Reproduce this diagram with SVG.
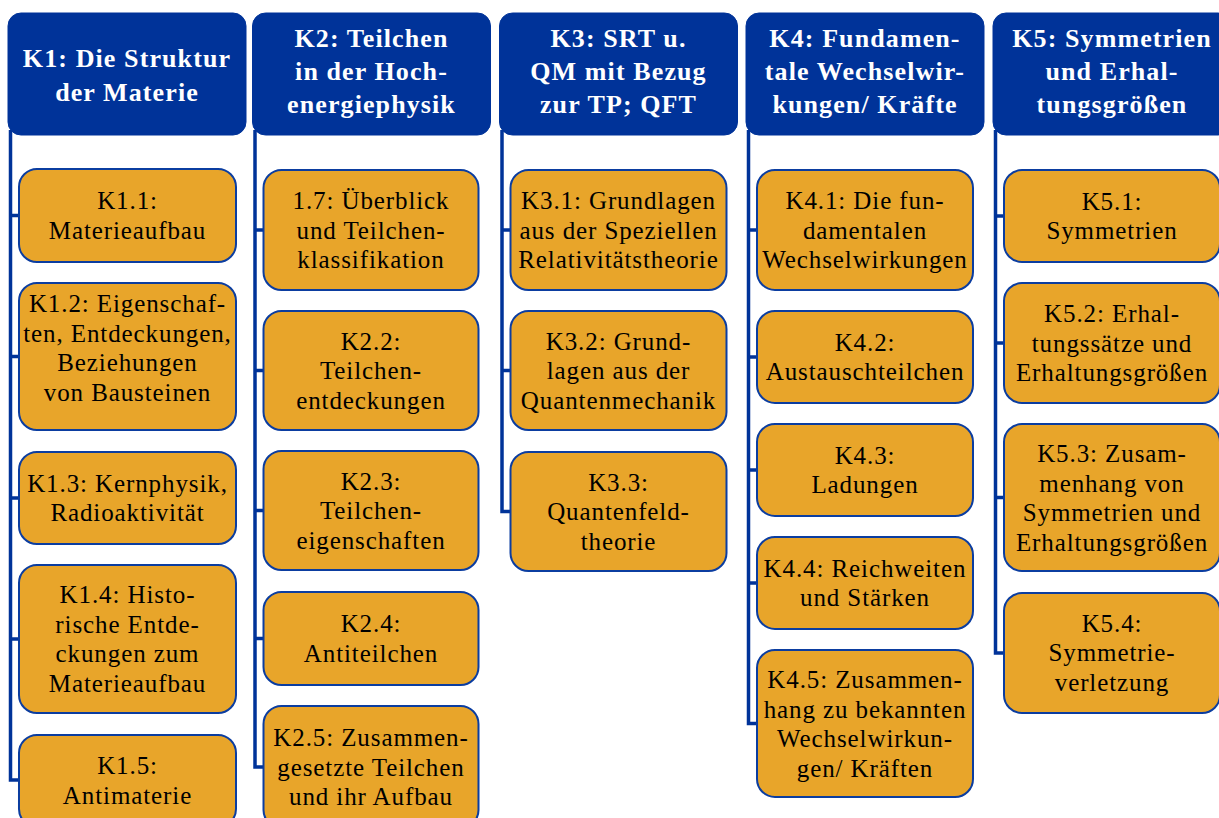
<svg xmlns="http://www.w3.org/2000/svg" width="1219" height="818" viewBox="0 0 1219 818">
<style>
.hd{fill:#003399;stroke:#003399;stroke-width:1}
.bx{fill:#E8A52A;stroke:#0B3DA0;stroke-width:2}
.ht{font-family:"Liberation Serif",serif;font-weight:bold;font-size:26px;fill:#ffffff;text-anchor:middle;letter-spacing:1.1px}
.bt{font-family:"Liberation Serif",serif;font-size:25px;fill:#000000;text-anchor:middle;letter-spacing:0.9px}
.cn{fill:none;stroke:#003399;stroke-width:3.5}
</style>
<rect width="1219" height="818" fill="#ffffff"/>
<g id="connectors">
<path class="cn" d="M10.5,130 V780 H19 M10.5,215.5 H19 M10.5,356.5 H19 M10.5,498 H19 M10.5,639 H19"/>
<path class="cn" d="M255,130 V767 H263.5 M255,230 H263.5 M255,370.5 H263.5 M255,510.5 H263.5 M255,638.5 H263.5"/>
<path class="cn" d="M502,130 V511.5 H510.5 M502,230 H510.5 M502,370.5 H510.5"/>
<path class="cn" d="M748.5,130 V723.5 H757 M748.5,230 H757 M748.5,357 H757 M748.5,470 H757 M748.5,583 H757"/>
<path class="cn" d="M995.5,130 V653 H1004 M995.5,216 H1004 M995.5,343 H1004 M995.5,497.5 H1004"/>
</g>
<g id="K1">
<rect class="hd" x="8" y="13" width="238" height="122" rx="13"/>
<text class="ht" x="127" y="67">K1: Die Struktur</text>
<text class="ht" x="127" y="100.5">der Materie</text>
</g>
<g id="K1.1"><rect class="bx" x="19" y="169" width="217" height="93" rx="18"/>
<text class="bt" x="127.5" y="209">K1.1:</text><text class="bt" x="127.5" y="239">Materieaufbau</text></g>
<g id="K1.2"><rect class="bx" x="19" y="283" width="217" height="147" rx="18"/>
<text class="bt" x="127.5" y="312">K1.2: Eigenschaf-</text><text class="bt" x="127.5" y="341.5">ten, Entdeckungen,</text><text class="bt" x="127.5" y="371">Beziehungen</text><text class="bt" x="127.5" y="400.5">von Bausteinen</text></g>
<g id="K1.3"><rect class="bx" x="19" y="452" width="217" height="92" rx="18"/>
<text class="bt" x="127.5" y="492">K1.3: Kernphysik,</text><text class="bt" x="127.5" y="521">Radioaktivität</text></g>
<g id="K1.4"><rect class="bx" x="19" y="565" width="217" height="148" rx="18"/>
<text class="bt" x="127.5" y="603">K1.4: Histo-</text><text class="bt" x="127.5" y="632.5">rische Entde-</text><text class="bt" x="127.5" y="662">ckungen zum</text><text class="bt" x="127.5" y="691.5">Materieaufbau</text></g>
<g id="K1.5"><rect class="bx" x="19" y="735" width="217" height="92" rx="18"/>
<text class="bt" x="127.5" y="774">K1.5:</text><text class="bt" x="127.5" y="803.5">Antimaterie</text></g>

<g id="K2">
<rect class="hd" x="252.5" y="13" width="238" height="122" rx="13"/>
<text class="ht" x="371.5" y="47">K2: Teilchen</text>
<text class="ht" x="371.5" y="80">in der Hoch-</text>
<text class="ht" x="371.5" y="113">energiephysik</text>
</g>
<g id="K2.1"><rect class="bx" x="263.5" y="170" width="215" height="120" rx="18"/>
<text class="bt" x="371" y="209">1.7: Überblick</text><text class="bt" x="371" y="238.5">und Teilchen-</text><text class="bt" x="371" y="268">klassifikation</text></g>
<g id="K2.2"><rect class="bx" x="263.5" y="311" width="215" height="119" rx="18"/>
<text class="bt" x="371" y="349.5">K2.2:</text><text class="bt" x="371" y="379">Teilchen-</text><text class="bt" x="371" y="408.5">entdeckungen</text></g>
<g id="K2.3"><rect class="bx" x="263.5" y="451" width="215" height="119" rx="18"/>
<text class="bt" x="371" y="489.5">K2.3:</text><text class="bt" x="371" y="519">Teilchen-</text><text class="bt" x="371" y="548.5">eigenschaften</text></g>
<g id="K2.4"><rect class="bx" x="263.5" y="592" width="215" height="93" rx="18"/>
<text class="bt" x="371" y="632">K2.4:</text><text class="bt" x="371" y="662">Antiteilchen</text></g>
<g id="K2.5"><rect class="bx" x="263.5" y="706" width="215" height="122" rx="18"/>
<text class="bt" x="371" y="746">K2.5: Zusammen-</text><text class="bt" x="371" y="775.5">gesetzte Teilchen</text><text class="bt" x="371" y="805">und ihr Aufbau</text></g>

<g id="K3">
<rect class="hd" x="499.5" y="13" width="238" height="122" rx="13"/>
<text class="ht" x="618.5" y="47">K3: SRT u.</text>
<text class="ht" x="618.5" y="80">QM mit Bezug</text>
<text class="ht" x="618.5" y="113">zur TP; QFT</text>
</g>
<g id="K3.1"><rect class="bx" x="510.5" y="170" width="216" height="120" rx="18"/>
<text class="bt" x="618.5" y="209">K3.1: Grundlagen</text><text class="bt" x="618.5" y="238.5">aus der Speziellen</text><text class="bt" x="618.5" y="268">Relativitätstheorie</text></g>
<g id="K3.2"><rect class="bx" x="510.5" y="311" width="216" height="119" rx="18"/>
<text class="bt" x="618.5" y="349.5">K3.2: Grund-</text><text class="bt" x="618.5" y="379">lagen aus der</text><text class="bt" x="618.5" y="408.5">Quantenmechanik</text></g>
<g id="K3.3"><rect class="bx" x="510.5" y="452" width="216" height="119" rx="18"/>
<text class="bt" x="618.5" y="490.5">K3.3:</text><text class="bt" x="618.5" y="520">Quantenfeld-</text><text class="bt" x="618.5" y="549.5">theorie</text></g>

<g id="K4">
<rect class="hd" x="746" y="13" width="238" height="122" rx="13"/>
<text class="ht" x="865" y="47">K4: Fundamen-</text>
<text class="ht" x="865" y="80">tale Wechselwir-</text>
<text class="ht" x="865" y="113">kungen/ Kräfte</text>
</g>
<g id="K4.1"><rect class="bx" x="757" y="170" width="216" height="120" rx="18"/>
<text class="bt" x="865" y="209">K4.1: Die fun-</text><text class="bt" x="865" y="238.5">damentalen</text><text class="bt" x="865" y="268">Wechselwirkungen</text></g>
<g id="K4.2"><rect class="bx" x="757" y="311" width="216" height="92" rx="18"/>
<text class="bt" x="865" y="350.5">K4.2:</text><text class="bt" x="865" y="380">Austauschteilchen</text></g>
<g id="K4.3"><rect class="bx" x="757" y="424" width="216" height="92" rx="18"/>
<text class="bt" x="865" y="463.5">K4.3:</text><text class="bt" x="865" y="493">Ladungen</text></g>
<g id="K4.4"><rect class="bx" x="757" y="537" width="216" height="92" rx="18"/>
<text class="bt" x="865" y="576.5">K4.4: Reichweiten</text><text class="bt" x="865" y="606">und Stärken</text></g>
<g id="K4.5"><rect class="bx" x="757" y="650" width="216" height="147" rx="18"/>
<text class="bt" x="865" y="688">K4.5: Zusammen-</text><text class="bt" x="865" y="717.5">hang zu bekannten</text><text class="bt" x="865" y="747">Wechselwirkun-</text><text class="bt" x="865" y="776.5">gen/ Kräften</text></g>

<g id="K5">
<rect class="hd" x="993" y="13" width="238" height="122" rx="13"/>
<text class="ht" x="1112" y="47">K5: Symmetrien</text>
<text class="ht" x="1112" y="80">und Erhal-</text>
<text class="ht" x="1112" y="113">tungsgrößen</text>
</g>
<g id="K5.1"><rect class="bx" x="1004" y="170" width="216" height="92" rx="18"/>
<text class="bt" x="1112" y="209.5">K5.1:</text><text class="bt" x="1112" y="239">Symmetrien</text></g>
<g id="K5.2"><rect class="bx" x="1004" y="283" width="216" height="120" rx="18"/>
<text class="bt" x="1112" y="322">K5.2: Erhal-</text><text class="bt" x="1112" y="351.5">tungssätze und</text><text class="bt" x="1112" y="381">Erhaltungsgrößen</text></g>
<g id="K5.3"><rect class="bx" x="1004" y="424" width="216" height="147" rx="18"/>
<text class="bt" x="1112" y="462">K5.3: Zusam-</text><text class="bt" x="1112" y="491.5">menhang von</text><text class="bt" x="1112" y="521">Symmetrien und</text><text class="bt" x="1112" y="550.5">Erhaltungsgrößen</text></g>
<g id="K5.4"><rect class="bx" x="1004" y="593" width="216" height="120" rx="18"/>
<text class="bt" x="1112" y="631.5">K5.4:</text><text class="bt" x="1112" y="661">Symmetrie-</text><text class="bt" x="1112" y="690.5">verletzung</text></g>
</svg>
